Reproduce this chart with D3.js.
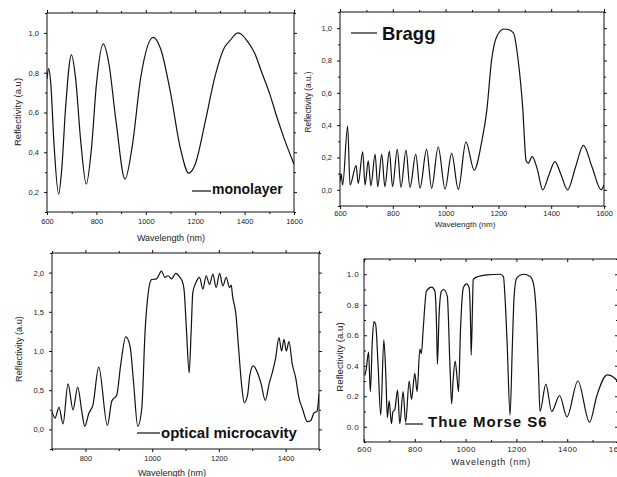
<!DOCTYPE html>
<html>
<head>
<meta charset="utf-8">
<script src="https://cdn.jsdelivr.net/npm/d3@7"></script>
<style>
  body { margin: 0; background: #fff; }
  svg { display: block; font-family: "Liberation Sans", Arial, sans-serif; }
</style>
</head>
<body>
<div id="vis"></div>
<script>
// ---- data ----
var monolayerWl = [600,607,615,628,647,660,675,699,715,737,759,780,800,828,850,880,916,945,980,1030,1060,1100,1140,1174,1200,1240,1280,1320,1340,1360,1373,1390,1410,1440,1470,1500,1530,1560,1600];
var monolayerR  = [0.77,0.82,0.75,0.45,0.19,0.32,0.62,0.89,0.78,0.45,0.24,0.42,0.74,0.945,0.85,0.55,0.265,0.43,0.78,0.978,0.92,0.70,0.42,0.295,0.34,0.55,0.78,0.93,0.96,0.99,1.0,0.99,0.96,0.90,0.80,0.70,0.58,0.47,0.34];

var braggWl = [600,604,610,629,638,661,669,686,695,707,717,733,743,758,770,787,799,817,831,850,865,887,903,928,947,972,998,1023,1048,1077,1108,1137,1156,1174,1193,1221,1240,1257,1275,1292,1305,1313,1328,1347,1368,1391,1414,1438,1462,1492,1522,1555,1589,1600];
var braggR  = [0.05,0.10,0.03,0.395,0.03,0.15,0.04,0.235,0.03,0.18,0.025,0.22,0.02,0.22,0.02,0.24,0.02,0.25,0.015,0.245,0.015,0.22,0.01,0.25,0.01,0.265,0.005,0.225,0.003,0.297,0.122,0.30,0.49,0.80,0.946,0.995,0.99,0.97,0.80,0.51,0.18,0.165,0.205,0.13,0.0,0.09,0.175,0.09,0.0,0.14,0.275,0.14,0.0,0.03];

var cavityWl = [700,709,721,733,748,763,777,790,798,810,823,840,866,879,894,906,921,934,944,957,969,979,988,998,1013,1028,1038,1048,1058,1071,1083,1091,1096,1103,1111,1117,1122,1132,1142,1152,1162,1172,1182,1192,1202,1212,1222,1232,1237,1241,1251,1259,1269,1276,1286,1293,1303,1316,1326,1339,1351,1361,1370,1380,1388,1395,1402,1410,1420,1430,1440,1450,1465,1475,1485,1494,1500];
var cavityR  = [0.23,0.145,0.28,0.07,0.58,0.25,0.54,0.21,0.04,0.20,0.32,0.795,0.05,0.36,0.44,0.83,1.18,1.06,0.62,0.04,0.27,1.26,1.73,1.91,1.92,2.02,1.94,1.96,1.92,1.99,1.94,1.88,1.77,1.26,0.72,1.26,1.75,1.88,1.94,1.79,1.96,1.85,1.98,1.81,1.99,1.83,1.94,1.81,1.84,1.70,1.47,1.04,0.53,0.34,0.44,0.70,0.81,0.72,0.59,0.37,0.59,0.74,0.91,1.17,1.0,1.15,1.0,1.12,0.83,0.66,0.40,0.27,0.10,0.11,0.21,0.23,0.45];

var thueWl = [603,609,618,625,633,639,646,655,666,678,686,692,699,708,714,721,732,741,754,764,778,787,800,809,820,826,833,846,866,879,886,889,896,905,914,928,938,945,951,959,967,972,980,991,1004,1014,1020,1022,1028,1030,1050,1083,1136,1149,1155,1164,1175,1184,1191,1201,1228,1254,1267,1278,1287,1293,1316,1339,1370,1399,1442,1488,1517,1557,1583,1600];
var thueR  = [0.335,0.38,0.49,0.23,0.57,0.69,0.67,0.42,0.076,0.57,0.335,0.06,0.17,0.02,0.10,0.11,0.24,0.02,0.23,0.03,0.30,0.18,0.35,0.23,0.51,0.48,0.64,0.89,0.915,0.89,0.64,0.41,0.75,0.89,0.90,0.855,0.42,0.15,0.31,0.43,0.31,0.23,0.64,0.91,0.937,0.91,0.64,0.47,0.855,0.967,0.985,0.996,1.0,0.985,0.855,0.53,0.076,0.53,0.855,0.974,1.0,0.985,0.94,0.75,0.36,0.10,0.28,0.10,0.205,0.065,0.30,0.03,0.205,0.34,0.325,0.295];

// ---- tick values ----
var wlMajor = [600,800,1000,1200,1400,1600];
var wlMinor = [700,900,1100,1300,1500];
var cavWlMajor = [800,1000,1200,1400];
var cavWlMinor = [700,900,1100,1300,1500];
var monoYMajor = [0.2,0.4,0.6,0.8,1.0];
var monoYMinor = [0.1,0.3,0.5,0.7,0.9,1.1];
var unitYMajor = [0.0,0.2,0.4,0.6,0.8,1.0];
var unitYMinor = [-0.1,0.1,0.3,0.5,0.7,0.9,1.1];
var cavYMajor = [0.0,0.5,1.0,1.5,2.0];
var cavYMinor = [-0.25,0.25,0.75,1.25,1.75,2.25];

var width = 617;
var height = 477;

var svg = d3.select("#vis")
  .append("svg")
  .attr("width", width)
  .attr("height", height);

function drawPanel(p) {
  var x = d3.scaleLinear().domain(p.xDomain).range([p.left, p.right]);
  var y = d3.scaleLinear().domain(p.yDomain).range([p.bottom, p.top]);
  var g = svg.append("g");
  var dir = p.inward ? -1 : 1;
  var yFmt = function(d) { return d3.format(".1f")(d).replace(".", p.dec); };

  function ticks(axis, tr, values, size, fmt, pad) {
    var a = g.append("g")
      .attr("transform", tr)
      .call(axis.tickValues(values).tickSize(size * dir).tickPadding(pad || 3).tickFormat(fmt || ""));
    a.select(".domain").remove();
    a.attr("font-family", null).attr("font-size", p.tickFont)
      .style("letter-spacing", p.tickSpacing || "0px");
    a.selectAll("line").attr("stroke", "#111");
    a.selectAll("text").attr("fill", "#222");
    return a;
  }

  // bottom / left with labels, top / right plain
  ticks(d3.axisBottom(x), `translate(0,${p.bottom})`, p.xMajor, 3, d3.format("d"), p.xPad);
  ticks(d3.axisBottom(x), `translate(0,${p.bottom})`, p.xMinor, 2);
  ticks(d3.axisLeft(y), `translate(${p.left},0)`, p.yMajor, 3, yFmt, p.yPad);
  ticks(d3.axisLeft(y), `translate(${p.left},0)`, p.yMinor, 2);
  ticks(d3.axisTop(x), `translate(0,${p.top})`, p.xMajor, 3);
  ticks(d3.axisTop(x), `translate(0,${p.top})`, p.xMinor, 2);
  ticks(d3.axisRight(y), `translate(${p.right},0)`, p.yMajor, 3);
  ticks(d3.axisRight(y), `translate(${p.right},0)`, p.yMinor, 2);

  g.append("rect")
    .attr("x", p.left).attr("y", p.top)
    .attr("width", p.right - p.left).attr("height", p.bottom - p.top)
    .attr("fill", "none").attr("stroke", "#111").attr("stroke-width", 1);

  var clipId = "clip" + p.id;
  svg.append("clipPath").attr("id", clipId)
    .append("rect")
    .attr("x", p.left).attr("y", p.top)
    .attr("width", p.right - p.left).attr("height", p.bottom - p.top);

  var pts = p.wl.map(function(w, i) { return [w, p.r[i]]; });
  var line = d3.line()
    .x(function(d) { return x(d[0]); })
    .y(function(d) { return y(d[1]); })
    .curve(d3.curveMonotoneX);

  g.append("path")
    .datum(pts)
    .attr("clip-path", `url(#${clipId})`)
    .attr("d", line)
    .attr("fill", "none")
    .attr("stroke", "#111")
    .attr("stroke-width", 1.2);

  // axis titles
  g.append("text")
    .attr("x", p.xTitle[0]).attr("y", p.xTitle[1])
    .attr("text-anchor", "middle")
    .attr("font-size", p.titleFont)
    .style("letter-spacing", p.titleSpacing || "0px")
    .attr("fill", "#222")
    .text("Wavelength (nm)");

  g.append("text")
    .attr("transform", `translate(${p.yTitle[0]},${p.yTitle[1]}) rotate(-90)`)
    .attr("text-anchor", "middle")
    .attr("font-size", p.yTitleFont)
    .attr("fill", "#222")
    .text(p.yLabel);

  // legend
  g.append("line")
    .attr("x1", p.legend.x1).attr("x2", p.legend.x2)
    .attr("y1", p.legend.y).attr("y2", p.legend.y)
    .attr("stroke", "#111").attr("stroke-width", 1.2);

  g.append("text")
    .attr("x", p.legend.tx).attr("y", p.legend.ty)
    .attr("font-size", p.legend.size)
    .attr("font-weight", "bold")
    .style("letter-spacing", p.legend.spacing || "0px")
    .attr("fill", "#111")
    .text(p.legend.text);
}

drawPanel({
  id: 1, wl: monolayerWl, r: monolayerR,
  left: 47, right: 294, top: 13, bottom: 212,
  xDomain: [600, 1600], yDomain: [0.1, 1.1],
  xMajor: wlMajor, xMinor: wlMinor, yMajor: monoYMajor, yMinor: monoYMinor,
  dec: ",", tickFont: 7.5, xPad: 4, yPad: 5,
  xTitle: [171, 241], titleFont: 9,
  yTitle: [21, 112], yTitleFont: 9.5, yLabel: "Reflectivity (a.u)",
  legend: { x1: 192, x2: 211, y: 191, tx: 212, ty: 194, size: 14, text: "monolayer" }
});

drawPanel({
  id: 2, wl: braggWl, r: braggR,
  left: 340, right: 604, top: 12, bottom: 206,
  xDomain: [600, 1600], yDomain: [-0.1, 1.1],
  xMajor: wlMajor, xMinor: wlMinor, yMajor: unitYMajor, yMinor: unitYMinor,
  dec: ",", tickFont: 7.5, xPad: 1.5, yPad: 5,
  xTitle: [465, 226.5], titleFont: 8,
  yTitle: [311, 102], yTitleFont: 8.2, yLabel: "Reflectivity (a.u.)",
  legend: { x1: 351, x2: 377, y: 33, tx: 382, ty: 40, size: 18.5, text: "Bragg" }
});

drawPanel({
  id: 3, wl: cavityWl, r: cavityR,
  left: 52, right: 319, top: 253, bottom: 449,
  xDomain: [700, 1500], yDomain: [-0.25, 2.25],
  xMajor: cavWlMajor, xMinor: cavWlMinor, yMajor: cavYMajor, yMinor: cavYMinor,
  dec: ",", tickFont: 7.5, xPad: 4, yPad: 5,
  xTitle: [172, 476], titleFont: 9,
  yTitle: [22, 349], yTitleFont: 9.2, yLabel: "Reflectivity (a.u)",
  legend: { x1: 137, x2: 160, y: 433, tx: 161, ty: 438, size: 15, text: "optical microcavity" }
});

drawPanel({
  id: 4, wl: thueWl, r: thueR, inward: true,
  left: 364, right: 618, top: 259, bottom: 442,
  xDomain: [600, 1600], yDomain: [-0.1, 1.1],
  xMajor: wlMajor, xMinor: wlMinor, yMajor: unitYMajor, yMinor: unitYMinor,
  dec: ".", tickFont: 8, tickSpacing: "0.4px", xPad: 4.5, yPad: 5,
  xTitle: [491, 465], titleFont: 9, titleSpacing: "0.8px",
  yTitle: [343, 357], yTitleFont: 9.7, yLabel: "Reflectivity (a.u)",
  legend: { x1: 405, x2: 423, y: 424, tx: 428, ty: 427, size: 15, spacing: "1px", text: "Thue Morse S6" }
});
</script>
</body>
</html>
